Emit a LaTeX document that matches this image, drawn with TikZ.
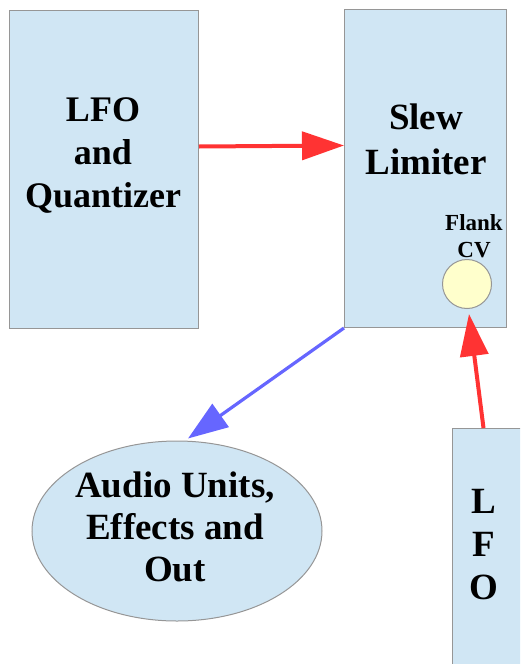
\documentclass[tikz,border=0pt]{standalone}
\usepackage{fontspec}
\setmainfont{Liberation Serif}
\usetikzlibrary{arrows.meta,shapes.geometric}
\definecolor{boxfill}{RGB}{208,230,244}
\definecolor{boxline}{RGB}{150,150,150}
\definecolor{redarr}{RGB}{255,51,51}
\definecolor{bluearr}{RGB}{102,102,255}
\definecolor{knob}{RGB}{255,255,204}
\tikzset{
  block/.style={draw=boxline, fill=boxfill, line width=1pt, inner sep=0pt, anchor=north west},
  lbl/.style={align=center, font=\bfseries, inner sep=0pt},
  redline/.style={draw=redarr, line width=4pt, -{Triangle[length=42pt,width=28pt]}},
  blueline/.style={draw=bluearr, line width=3.2pt, -{Triangle[length=40pt,width=28pt]}},
}
\begin{document}
\begin{tikzpicture}[x=1pt,y=-1pt]
\useasboundingbox (0,0) rectangle (520,664);
\clip (0,0) rectangle (520,664);
% blocks
\node[block, minimum width=189pt, minimum height=318pt] (lfoq) at (9,10) {};
\node[block, minimum width=162pt, minimum height=318pt] (slew) at (344,9) {};
\node[block, minimum width=90pt, minimum height=260pt] (lfo) at (452,428) {};
\node[draw=boxline, fill=boxfill, line width=1pt, ellipse, minimum width=290pt, minimum height=180pt, inner sep=0pt] (aud) at (177,531) {};
\node[draw=boxline, fill=knob, line width=1pt, circle, minimum size=49pt, inner sep=0pt] (cv) at (467,284) {};
% labels
\node[lbl, font=\bfseries\fontsize{36}{43}\selectfont] (t1) at (103,155) {LFO\\and\\Quantizer};
\node[lbl, font=\bfseries\fontsize{37}{45}\selectfont] (t2) at (426,139) {Slew\\Limiter};
\node[lbl, font=\bfseries\fontsize{23}{27}\selectfont] (t3) at (474,236) {Flank\\CV};
\node[lbl, font=\bfseries\fontsize{37}{42}\selectfont] (t4) at (175,527) {Audio Units,\\Effects and\\Out};
\node[lbl, font=\bfseries\fontsize{37}{43}\selectfont] (t5) at (484,545) {L\\F\\O};
% connectors
\draw[redline] ([yshift=23pt]lfoq.east) -- ([yshift=23pt]slew.west);
\draw[blueline] (slew.south west) -- ([xshift=11pt,yshift=2pt]aud.north);
\draw[redline] ([xshift=-14pt]lfo.north) -- ([xshift=2pt,yshift=-5pt]cv.south);
\end{tikzpicture}
\end{document}
